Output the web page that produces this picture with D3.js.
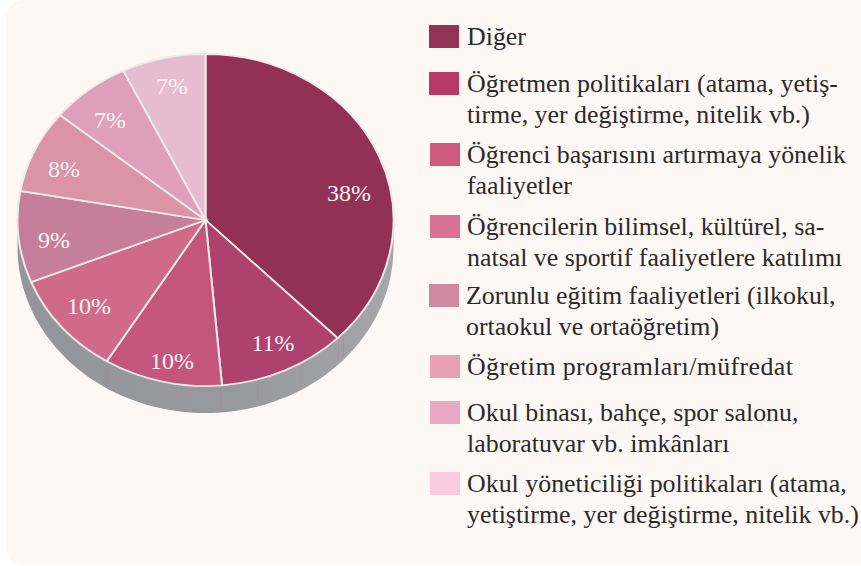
<!DOCTYPE html>
<html><head><meta charset="utf-8">
<style>html,body{margin:0;padding:0;background:#fff}svg{display:block}</style>
<script src="https://cdn.jsdelivr.net/npm/d3@7"></script></head><body>
<script>
const categories = ["Diğer","Öğretmen politikaları","Öğrenci başarısı","Bilimsel, kültürel faaliyetler","Zorunlu eğitim","Öğretim programları","Okul binası","Okul yöneticiliği"];
const values = [37.6,11,10.2,10.1,8.9,8.1,6.9,7.2];
const sliceColors = ["#933155","#ae426c","#c4557b","#cf6a8a","#c67f98","#db93a7","#dd9fb9","#e7bcd0"];
const legendColors = ["#933355","#b63a68","#d05a80","#da7296","#cf8aa2","#e99fb6","#eba8c3","#f9cbdf"];
const legendLines = [
  ["Diğer"],
  ["Öğretmen politikaları (atama, yetiş-","tirme, yer değiştirme, nitelik vb.)"],
  ["Öğrenci başarısını artırmaya yönelik","faaliyetler"],
  ["Öğrencilerin bilimsel, kültürel, sa-","natsal ve sportif faaliyetlere katılımı"],
  ["Zorunlu eğitim faaliyetleri (ilkokul,","ortaokul ve ortaöğretim)"],
  ["Öğretim programları/müfredat"],
  ["Okul binası, bahçe, spor salonu,","laboratuvar vb. imkânları"],
  ["Okul yöneticiliği politikaları (atama,","yetiştirme, yer değiştirme, nitelik vb.)"]
];
const legendTops = [25,72,143,215,284,355,401,472];
const legendX = [429,429,430,430,429,430,430,430];
const legendTextX = [467,467,467,467,466,467,467,467];
const legendSpacing = [0,0,0,0,0,0.38,0,0];
const seamPercents = [36.9,37.5,41.5,45.5,48.7,58.8,69];

const W=861,H=566,cx=205.5,cy=220,R=188,ky=166/188,depth=27;
const svg=d3.select("body").append("svg").attr("width",W).attr("height",H);
const defs=svg.append("defs");
const g0=defs.append("linearGradient").attr("id","side").attr("x1",0).attr("x2",1).attr("y1",0).attr("y2",0);
g0.append("stop").attr("offset","0").attr("stop-color","#949599");
g0.append("stop").attr("offset","0.6").attr("stop-color","#98999d");
g0.append("stop").attr("offset","1").attr("stop-color","#a5a6a9");
svg.append("rect").attr("x",6).attr("y",0).attr("width",W+20).attr("height",565).attr("rx",18).attr("fill","#fdf7f6");

const pie=d3.pie().sort(null).value(d=>d);
const arcs=pie(values);
const arc=d3.arc().innerRadius(0).outerRadius(R);
const plot=svg.append("g");
const angle=d3.scaleLinear().domain([0,100]).range([0,2*Math.PI]);
const side=d3.area().x(d=>cx+R*Math.sin(d)).y0(d=>cy-R*ky*Math.cos(d)).y1(d=>cy-R*ky*Math.cos(d)+depth);
plot.append("path").attr("d",side(d3.range(25,75.01,0.5).map(angle))).attr("fill","url(#side)");
plot.selectAll("line.seam").data(seamPercents).join("line").attr("class","seam")
  .attr("x1",d=>cx+R*Math.sin(angle(d))).attr("x2",d=>cx+R*Math.sin(angle(d)))
  .attr("y1",d=>cy-R*ky*Math.cos(angle(d))).attr("y2",d=>cy-R*ky*Math.cos(angle(d))+depth*0.85)
  .attr("stroke","#a88a96").attr("stroke-width",0.8);
const pieTop=plot.append("g").attr("transform",`translate(${cx},${cy}) scale(1,${ky})`);
pieTop.selectAll("path").data(arcs).join("path").attr("d",arc)
  .attr("fill",(d,i)=>sliceColors[i]).attr("stroke","#eee9ea").attr("stroke-width",2);
const labelPos=[[349,193],[273,343],[172,361],[89,306],[54,240],[64,169],[110,120],[172,86]];
plot.selectAll("text").data(arcs).join("text")
  .attr("x",(d,i)=>labelPos[i][0]).attr("y",(d,i)=>labelPos[i][1]).attr("dy","0.35em")
  .attr("text-anchor","middle").attr("font-family","Liberation Serif").attr("font-size",24)
  .attr("fill","#fdf4f5").text(d=>d3.format(".0f")(d.value)+"%");

const lg=svg.append("g");
const row=lg.selectAll("g").data(legendLines).join("g");
row.append("rect").attr("x",(d,i)=>legendX[i]).attr("y",(d,i)=>legendTops[i]).attr("width",30).attr("height",23).attr("fill",(d,i)=>legendColors[i]);
row.each(function(lines,i){
  d3.select(this).selectAll("text").data(lines).join("text")
   .attr("x",legendTextX[i]).attr("y",(d,j)=>legendTops[i]+20+j*31.3)
   .attr("letter-spacing",legendSpacing[i])
   .attr("font-family","Liberation Serif").attr("font-size",25.9).attr("fill","#2b2a29").text(d=>d);
});
</script></body></html>
